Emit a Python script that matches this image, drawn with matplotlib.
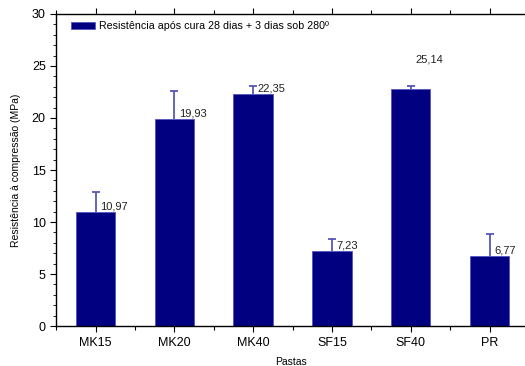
import numpy as np
import matplotlib.pyplot as plt
from matplotlib.ticker import MultipleLocator

plt.rcParams['font.family'] = ['Liberation Sans', 'DejaVu Sans']

# Dados
pastas = ['MK15', 'MK20', 'MK40', 'SF15', 'SF40', 'PR']
resistencia = [10.97, 19.93, 22.35, 7.23, 22.75, 6.77]
erro = [1.95, 2.7, 0.7, 1.1, 0.3, 2.1]
rotulos = ['10,97', '19,93', '22,35', '7,23', '25,14', '6,77']
rotulo_y = [10.97, 19.93, 22.35, 7.23, 25.14, 6.77]

x = np.arange(1, len(pastas) + 1)

fig = plt.figure(figsize=(5.25, 3.66), dpi=100)
ax = fig.add_axes([0.107, 0.109, 0.893, 0.853])

ax.bar(x, resistencia, width=0.5, color='#000080', edgecolor='#5555c0',
       linewidth=0.6, label='Resistência após cura 28 dias + 3 dias sob 280º')
linha, caps, barras = ax.errorbar(x, resistencia, yerr=[np.zeros(len(erro)), erro],
                                  fmt='none', ecolor='#4a4ab8', elinewidth=1.2,
                                  capsize=3, capthick=1.2)
# so o cap de cima
caps[0].set_visible(False)

for xi, yi, txt in zip(x, rotulo_y, rotulos):
    ax.text(xi + 0.06, yi + 0.5, txt, ha='left', va='center', fontsize=8,
            color='#222222')

ax.set_xlim(0.5, 6.45)
ax.set_ylim(0, 30)
ax.set_xticks(x)
ax.set_xticklabels(pastas, fontsize=9)
ax.xaxis.set_minor_locator(MultipleLocator(0.5))
ax.yaxis.set_major_locator(MultipleLocator(5))
ax.yaxis.set_minor_locator(MultipleLocator(1))
ax.tick_params(axis='y', labelsize=9, length=4, width=0.8)
ax.tick_params(axis='y', which='minor', length=2, width=0.6)
ax.tick_params(axis='x', length=4, width=0.8)
ax.tick_params(axis='x', which='minor', length=3, width=0.8)
ax.tick_params(axis='x', which='both', top=True, direction='out')

ax.spines['right'].set_visible(False)
for s in ['left', 'bottom', 'top']:
    ax.spines[s].set_linewidth(1.0)

ax.set_xlabel('Pastas', fontsize=7.5, labelpad=6)
ax.set_ylabel('Resistência à compressão (MPa)', fontsize=7.5, labelpad=8)

ax.legend(loc='upper left', bbox_to_anchor=(0.022, 0.99), fontsize=7.7,
          frameon=False, handlelength=2.3, handleheight=0.75,
          borderaxespad=0.2, borderpad=0.2, handletextpad=0.3)

fig.savefig('out.png', dpi=100)
